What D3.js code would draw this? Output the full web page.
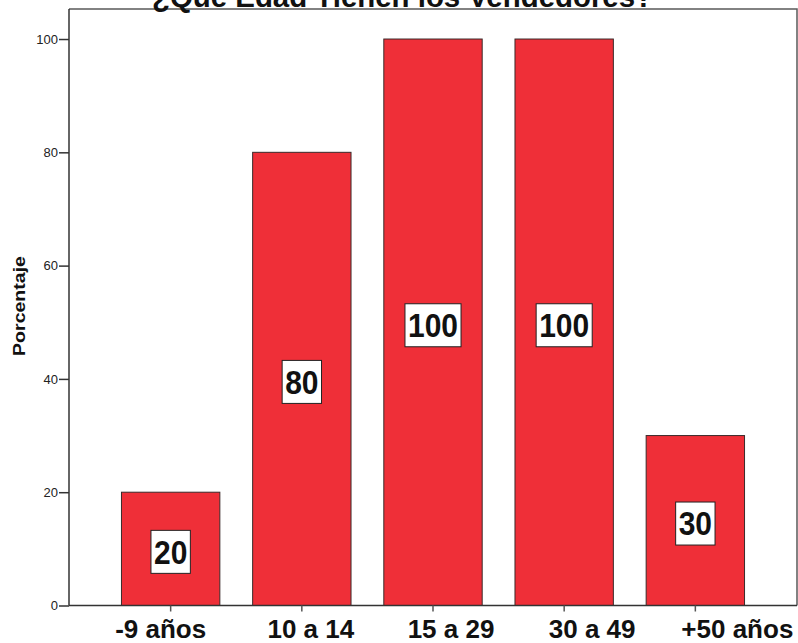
<!DOCTYPE html>
<html>
<head>
<meta charset="utf-8">
<script src="https://cdn.jsdelivr.net/npm/d3@7"></script>
<style>
  html, body { margin: 0; padding: 0; background: #fff; }
  svg { display: block; }
  text { font-family: "Liberation Sans", Arial, sans-serif; }
</style>
</head>
<body>
<svg id="chart" width="798" height="643"></svg>
<script>
// Age groups of the sellers and their percentages
const categories = ["-9 años", "10 a 14", "15 a 29", "30 a 49", "+50 años"];
const values = [20, 80, 100, 100, 30];
const yTicks = [0, 20, 40, 60, 80, 100];
const labelNudge = [-10, 9, 18, 28, 42];

const title = "¿Qué Edad Tienen los Vendedores?";
const yTitle = "Porcentaje";

const plot = { left: 69, right: 797, top: 9, bottom: 605.5 };

const svg = d3.select("#chart");

const x = d3.scaleBand()
  .domain(categories)
  .range([plot.left, plot.right])
  .paddingInner(0.25)
  .paddingOuter(0.4);

const y = d3.scaleLinear()
  .domain([0, 105.3])
  .range([plot.bottom, plot.top]);

// Frame (top and right edges)
svg.append("path")
  .attr("d", `M${plot.left},${plot.top}H${plot.right}V${plot.bottom}`)
  .attr("fill", "none")
  .attr("stroke", "#5a5a5a")
  .attr("stroke-width", 1.5);

// Bars
svg.append("g").selectAll("rect")
  .data(values)
  .join("rect")
  .attr("x", (d, i) => x(categories[i]))
  .attr("width", x.bandwidth())
  .attr("y", d => y(d))
  .attr("height", d => y(0) - y(d))
  .attr("fill", "#ef2f38")
  .attr("stroke", "#3a2a2a")
  .attr("stroke-width", 1);

// Y axis
const yAxis = d3.axisLeft(y).tickValues(yTicks).tickSize(10).tickPadding(1);
const gy = svg.append("g")
  .attr("transform", `translate(${plot.left},0)`)
  .call(yAxis);
gy.select(".domain").attr("stroke", "#333").attr("stroke-width", 1.5)
  .attr("d", `M-0,${plot.bottom}V${plot.top}`);
gy.selectAll(".tick line").attr("stroke", "#333").attr("stroke-width", 1.5);
gy.selectAll(".tick text")
  .attr("font-size", 13)
  .attr("fill", "#222")
  .attr("font-family", "'Liberation Sans', Arial, sans-serif");

// X axis
const xAxis = d3.axisBottom(x).tickSize(6).tickFormat("");
const gx = svg.append("g")
  .attr("transform", `translate(0,${plot.bottom})`)
  .call(xAxis);
gx.select(".domain").attr("stroke", "#333").attr("stroke-width", 1.5)
  .attr("d", `M${plot.left},0H${plot.right}`);
gx.selectAll(".tick line").attr("stroke", "#555").attr("stroke-width", 1.5);

// Category labels
svg.append("g").selectAll("text")
  .data(categories)
  .join("text")
  .attr("x", (d, i) => x(d) + x.bandwidth() / 2 + labelNudge[i])
  .attr("y", 638)
  .attr("text-anchor", "middle")
  .attr("font-size", 26)
  .attr("font-weight", "bold")
  .attr("fill", "#111")
  .text(d => d);

// Value labels in white boxes at the middle of each bar
const lab = svg.append("g").selectAll("g")
  .data(values)
  .join("g")
  .attr("transform", (d, i) =>
    `translate(${x(categories[i]) + x.bandwidth() / 2},${(y(d) + y(0)) / 2 + 3})`);

lab.append("text")
  .attr("text-anchor", "middle")
  .attr("dy", "0.36em")
  .attr("font-size", 30)
  .attr("font-weight", "bold")
  .attr("fill", "#111")
  .attr("transform", "scale(1,1.08)")
  .text(d => d);

lab.each(function () {
  const g = d3.select(this);
  const w = g.select("text").node().getComputedTextLength() + 6;
  g.insert("rect", "text")
    .attr("x", -w / 2)
    .attr("y", -21.5)
    .attr("width", w)
    .attr("height", 43)
    .attr("fill", "#fff")
    .attr("stroke", "#222")
    .attr("stroke-width", 1);
});

// Y axis title
svg.append("text")
  .attr("transform", "translate(25,306) scale(1,1.15) rotate(-90)")
  .attr("text-anchor", "middle")
  .attr("font-size", 17)
  .attr("font-weight", "bold")
  .attr("fill", "#111")
  .text(yTitle);

// Chart title, partly above the top edge
svg.append("text")
  .attr("x", 152)
  .attr("y", 7)
  .attr("textLength", 501)
  .attr("lengthAdjust", "spacingAndGlyphs")
  .attr("font-family", "'Open Sans', 'DejaVu Sans', sans-serif")
  .attr("font-size", 30)
  .attr("font-weight", "bold")
  .attr("fill", "#111")
  .text(title);
</script>
</body>
</html>
